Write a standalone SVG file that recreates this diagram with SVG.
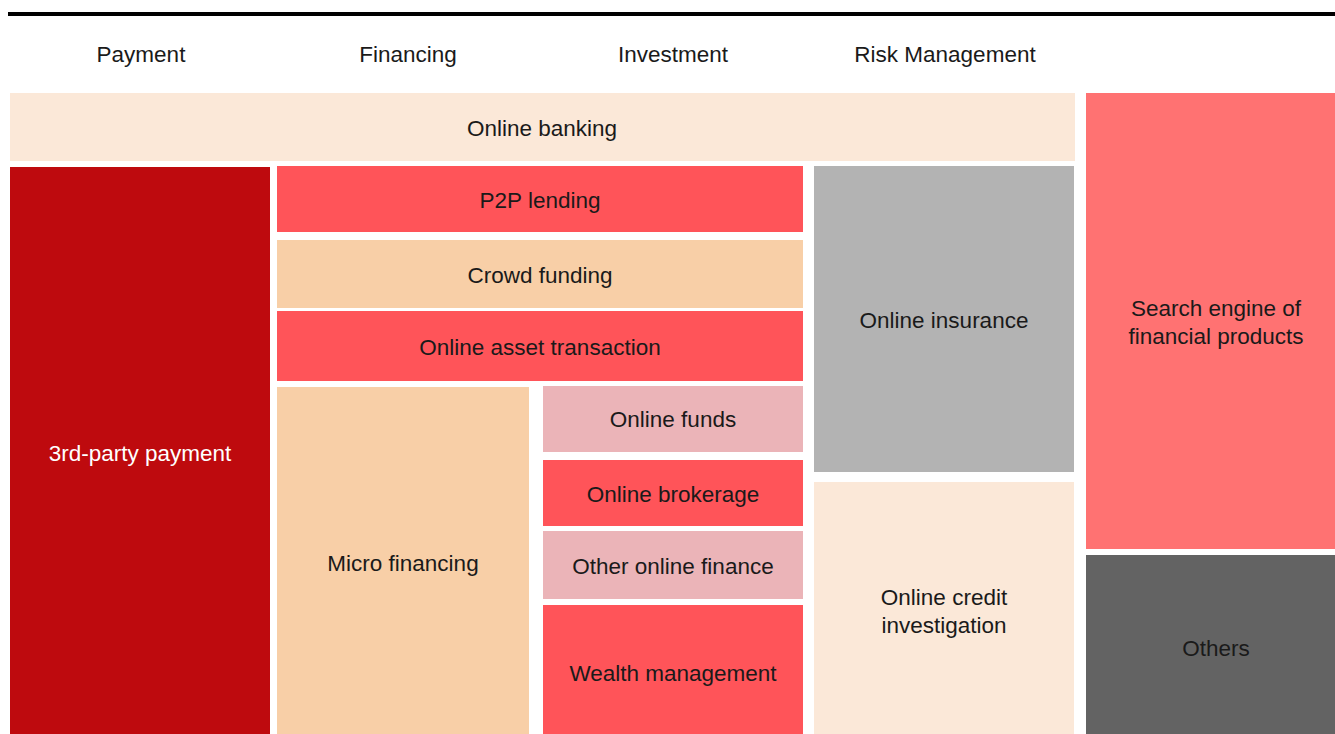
<svg xmlns="http://www.w3.org/2000/svg" width="1335" height="734" viewBox="0 0 1335 734">
  <style>
    text { font-family: "Liberation Sans", Arial, sans-serif; font-size: 22.5px; fill: #1a1a1a; text-anchor: middle; }
    .light { fill: #ffffff; }
    .hdr { font-size: 22.5px; }
  </style>
  <rect width="1335" height="734" fill="#ffffff"/>
  <!-- top rule -->
  <rect x="8" y="12" width="1327" height="4" fill="#000000"/>

  <!-- column headers -->
  <g id="headers">
    <text class="hdr" x="141" y="62">Payment</text>
    <text class="hdr" x="408" y="62">Financing</text>
    <text class="hdr" x="673" y="62">Investment</text>
    <text class="hdr" x="945" y="62">Risk Management</text>
  </g>

  <g id="online-banking">
    <rect x="10" y="93" width="1065" height="68" fill="#fbe8d8"/>
    <text x="542" y="136">Online banking</text>
  </g>
  <g id="third-party-payment">
    <rect x="10" y="167" width="260" height="567" fill="#be0a0e"/>
    <text class="light" x="140" y="461">3rd-party payment</text>
  </g>
  <g id="p2p-lending">
    <rect x="277" y="166" width="526" height="66" fill="#ff5459"/>
    <text x="540" y="208">P2P lending</text>
  </g>
  <g id="crowd-funding">
    <rect x="277" y="240" width="526" height="68" fill="#f8cfa7"/>
    <text x="540" y="283">Crowd funding</text>
  </g>
  <g id="online-asset-transaction">
    <rect x="277" y="311" width="526" height="70" fill="#ff5459"/>
    <text x="540" y="355">Online asset transaction</text>
  </g>
  <g id="micro-financing">
    <rect x="277" y="387" width="252" height="347" fill="#f8cfa7"/>
    <text x="403" y="571">Micro financing</text>
  </g>
  <g id="online-funds">
    <rect x="543" y="386" width="260" height="66" fill="#ebb4b8"/>
    <text x="673" y="427">Online funds</text>
  </g>
  <g id="online-brokerage">
    <rect x="543" y="460" width="260" height="66" fill="#ff5459"/>
    <text x="673" y="502">Online brokerage</text>
  </g>
  <g id="other-online-finance">
    <rect x="543" y="531" width="260" height="68" fill="#ebb4b8"/>
    <text x="673" y="574">Other online finance</text>
  </g>
  <g id="wealth-management">
    <rect x="543" y="605" width="260" height="129" fill="#ff5459"/>
    <text x="673" y="681">Wealth management</text>
  </g>
  <g id="online-insurance">
    <rect x="814" y="166" width="260" height="306" fill="#b3b3b3"/>
    <text x="944" y="328">Online insurance</text>
  </g>
  <g id="online-credit-investigation">
    <rect x="814" y="482" width="260" height="252" fill="#fbe8d8"/>
    <text x="944" y="605">Online credit</text>
    <text x="944" y="633">investigation</text>
  </g>
  <g id="search-engine">
    <rect x="1086" y="93" width="249" height="456" fill="#ff7272"/>
    <text x="1216" y="316">Search engine of</text>
    <text x="1216" y="344">financial products</text>
  </g>
  <g id="others">
    <rect x="1086" y="555" width="249" height="179" fill="#636363"/>
    <text x="1216" y="656">Others</text>
  </g>
  <g id="connectors"/>
</svg>
